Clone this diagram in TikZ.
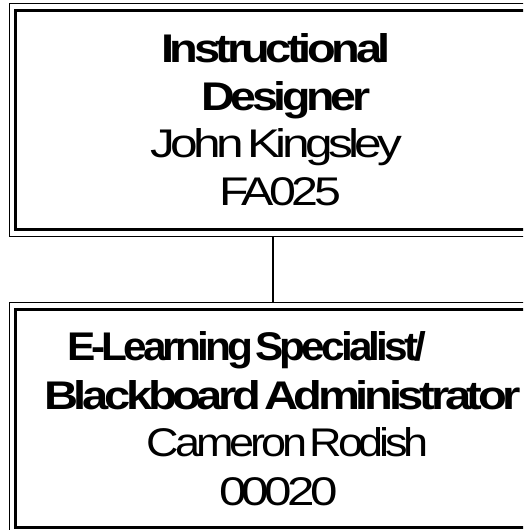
\documentclass[tikz,border=0pt]{standalone}
\usepackage{fontspec}
\setmainfont{Liberation Sans}
\newfontfamily\tightfont[FakeStretch=1.3, LetterSpace=-12, WordSpace=0.3]{Liberation Sans}
\usepackage{graphicx}
\begin{document}
\begin{tikzpicture}[x=1pt,y=-1pt,
  outerbox/.style={draw, line width=1pt, inner sep=0pt, outer sep=0pt, anchor=north west, minimum width=527pt},
  innerline/.style={line width=3pt},
  link/.style={line width=1.5pt},
  txt/.style={anchor=base, inner sep=0pt, font=\tightfont\fontsize{40}{48}\selectfont}]
\useasboundingbox (0,0) rectangle (523,530);
\clip (0,0) rectangle (523,530);
% boxes
\node[outerbox, minimum height=232.5pt] (top) at (9.5,3.5) {};
\node[outerbox, minimum height=231.5pt] (bot) at (9.5,302) {};
\draw[innerline] ([xshift=6pt,yshift=-7pt]top.north west) rectangle ([xshift=-6pt,yshift=6.5pt]top.south east);
\draw[innerline] ([xshift=6pt,yshift=-7.5pt]bot.north west) rectangle ([xshift=-6pt,yshift=6.5pt]bot.south east);
\draw[link] (top.south) -- (bot.north);
% texts
\node[txt] (t1) at (276,62)    {\bfseries\resizebox{230pt}{\height}{Instructional}};
\node[txt] (t2) at (286,110.5) {\bfseries\resizebox{169pt}{\height}{Designer}};
\node[txt] (t3) at (276.5,157) {\resizebox{252pt}{\height}{John Kingsley}};
\node[txt] (t4) at (280,205)   {\resizebox{122pt}{\height}{FA025}};
\node[txt] (b1) at (246.5,360.5) {\bfseries\resizebox{359pt}{\height}{E-Learning Specialist/}};
\node[txt] (b2) at (282.5,409) {\bfseries\resizebox{477pt}{\height}{Blackboard Administrator}};
\node[txt] (b3) at (288,456.5) {\resizebox{282pt}{\height}{Cameron Rodish}};
\node[txt] (b4) at (278.5,505) {\resizebox{119pt}{\height}{00020}};
\end{tikzpicture}
\end{document}
